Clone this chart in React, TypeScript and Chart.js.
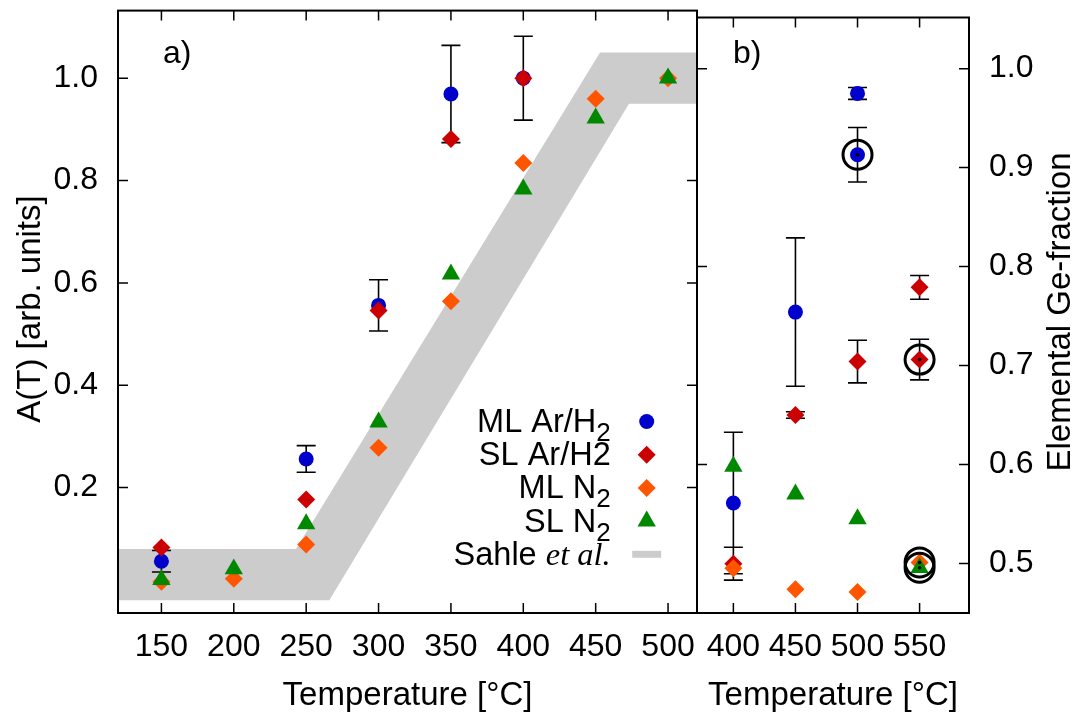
import React, { useEffect, useRef } from 'react';
import { Chart, registerables } from 'chart.js';

Chart.register(...registerables);

const FONT = '"Liberation Sans", Arial, Helvetica, sans-serif';
const SERIF = '"Liberation Serif", "Times New Roman", serif';

const BLUE = '#0000cc';
const RED = '#cc0000';
const ORANGE = '#ff5500';
const GREEN = '#008800';
const BAND = '#cccccc';

// ---------- Panel a: A(T) ----------
const xTicksA = [150, 200, 250, 300, 350, 400, 450, 500];
const yTicksA = [0.2, 0.4, 0.6, 0.8, 1.0];
const tempsA = [150, 200, 250, 300, 350, 400, 450, 500];
const mlArH2TempA = [150, 250, 300, 350, 400];
const mlArH2A = [0.056, 0.256, 0.556, 0.969, 1.0];
const mlArH2ErrA = [0.021, 0.026, 0.05, 0.095, 0.082];
const slArH2TempA = [150, 250, 300, 350, 400];
const slArH2A = [0.083, 0.177, 0.546, 0.881, 1.0];
const mlN2A = [0.016, 0.022, 0.089, 0.278, 0.564, 0.834, 0.96, 1.0];
const slN2A = [0.02, 0.041, 0.129, 0.328, 0.617, 0.783, 0.922, 1.0];
const sahleUpperT = [100, 243, 453, 540];
const sahleUpper = [0.08, 0.08, 1.05, 1.05];
const sahleLowerT = [100, 266, 473, 540];
const sahleLower = [-0.02, -0.02, 0.95, 0.95];

// ---------- Panel b: elemental Ge-fraction ----------
const xTicksB = [400, 450, 500, 550];
const yTicksB = [0.5, 0.6, 0.7, 0.8, 0.9, 1.0];
const innerTicksB = [0.6, 0.8, 1.0];
const tempsB = [400, 450, 500, 550];
const mlArH2TempB = [400, 450, 500, 500];
const mlArH2B = [0.561, 0.754, 0.975, 0.913];
const mlArH2ErrB = [0.0715, 0.075, 0.006, 0.0275];
const slArH2TempB = [400, 450, 500, 550, 550];
const slArH2B = [0.4997, 0.65, 0.704, 0.706, 0.779];
const slArH2ErrB = [0.0166, 0.0033, 0.0215, 0.0205, 0.012];
const mlN2B = [0.495, 0.474, 0.471, 0.501];
const slN2B = [0.598, 0.57, 0.545, 0.4956];
const markedTempB = [500, 550, 550, 550];
const markedB = [0.913, 0.706, 0.501, 0.4956];

// ---------- legend ----------
const legendMain = ['ML Ar/H', 'SL Ar/H2', 'ML N', 'SL N', 'Sahle '];
const legendSub = ['2', '', '2', '2', ''];
const legendItalic = ['', '', '', '', 'et al.'];
const legendStyle = ['circle', 'diamond', 'diamond', 'triangle', 'band'];
const legendColor = [BLUE, RED, ORANGE, GREEN, BAND];

const pts = (xs: number[], ys: number[]) => xs.map((x, i) => ({ x, y: ys[i] }));

function drawShape(ctx: CanvasRenderingContext2D, style: string, x: number, y: number, color: string) {
  ctx.save();
  ctx.fillStyle = color;
  ctx.beginPath();
  if (style === 'circle') {
    ctx.arc(x, y, 7.5, 0, Math.PI * 2);
  } else if (style === 'diamond') {
    const r = 9;
    ctx.moveTo(x - r, y);
    ctx.lineTo(x, y - r);
    ctx.lineTo(x + r, y);
    ctx.lineTo(x, y + r);
    ctx.closePath();
  } else if (style === 'triangle') {
    const r = 10.6;
    ctx.moveTo(x, y - r);
    ctx.lineTo(x + r * 0.866, y + r * 0.5);
    ctx.lineTo(x - r * 0.866, y + r * 0.5);
    ctx.closePath();
  } else if (style === 'band') {
    ctx.rect(x - 14.5, y - 3.5, 29, 7);
  }
  ctx.fill();
  ctx.restore();
}

type PanelCfg = {
  leftTicks: number[];
  rightTicks: number[];
  xTicks: number[];
  bars: { xs: number[]; ys: number[]; errs: number[] }[];
  label: string;
  labelX: number;
  yTitle: string;
  yTitleX: number;
  yTitleY: number;
  legend: boolean;
};

function makePlugin(cfg: PanelCfg) {
  return {
    id: 'panelDecor',
    beforeDraw(chart: any) {
      const { ctx, chartArea: a } = chart;
      const xs = chart.scales.x;
      const ys = chart.scales.y;
      const L = 10;
      ctx.save();
      ctx.strokeStyle = '#000';
      ctx.lineWidth = 1.5;
      ctx.beginPath();
      for (const v of cfg.xTicks) {
        const px = xs.getPixelForValue(v);
        ctx.moveTo(px, a.bottom);
        ctx.lineTo(px, a.bottom - L);
        ctx.moveTo(px, a.top);
        ctx.lineTo(px, a.top + L);
      }
      for (const v of cfg.leftTicks) {
        const py = ys.getPixelForValue(v);
        ctx.moveTo(a.left, py);
        ctx.lineTo(a.left + L, py);
      }
      for (const v of cfg.rightTicks) {
        const py = ys.getPixelForValue(v);
        ctx.moveTo(a.right, py);
        ctx.lineTo(a.right - L, py);
      }
      ctx.stroke();
      ctx.restore();
    },
    beforeDatasetsDraw(chart: any) {
      const { ctx } = chart;
      const xs = chart.scales.x;
      const ys = chart.scales.y;
      const cap = 9.5;
      ctx.save();
      ctx.strokeStyle = '#000';
      ctx.lineWidth = 1.6;
      ctx.beginPath();
      for (const b of cfg.bars) {
        b.xs.forEach((xv, i) => {
          const px = xs.getPixelForValue(xv);
          const top = ys.getPixelForValue(b.ys[i] + b.errs[i]);
          const bot = ys.getPixelForValue(b.ys[i] - b.errs[i]);
          ctx.moveTo(px, top);
          ctx.lineTo(px, bot);
          ctx.moveTo(px - cap, top);
          ctx.lineTo(px + cap, top);
          ctx.moveTo(px - cap, bot);
          ctx.lineTo(px + cap, bot);
        });
      }
      ctx.stroke();
      ctx.restore();
    },
    afterDatasetsDraw(chart: any) {
      const { ctx, chartArea: a } = chart;
      ctx.save();
      ctx.strokeStyle = '#000';
      ctx.lineWidth = 2;
      ctx.strokeRect(a.left, a.top, a.right - a.left, a.bottom - a.top);

      ctx.fillStyle = '#000';
      ctx.font = `32px ${FONT}`;
      ctx.textAlign = 'left';
      ctx.textBaseline = 'alphabetic';
      ctx.fillText(cfg.label, cfg.labelX, 63);

      ctx.save();
      ctx.translate(cfg.yTitleX, cfg.yTitleY);
      ctx.rotate(-Math.PI / 2);
      ctx.textAlign = 'center';
      ctx.textBaseline = 'middle';
      ctx.font = `33px ${FONT}`;
      ctx.fillText(cfg.yTitle, 0, 0);
      ctx.restore();

      if (cfg.legend) {
        const right = 610.7;
        const markX = 646.7;
        for (let i = 0; i < legendMain.length; i++) {
          const rowY = 421.5 + i * 33.2;
          const base = rowY + 10.5;
          ctx.font = `32.5px ${FONT}`;
          const wMain = ctx.measureText(legendMain[i]).width;
          ctx.font = `26px ${FONT}`;
          const wSub = legendSub[i] ? ctx.measureText(legendSub[i]).width : 0;
          ctx.font = `italic 32.5px ${SERIF}`;
          const wIt = legendItalic[i] ? ctx.measureText(legendItalic[i]).width : 0;
          let x = right - wMain - wSub - wIt;
          ctx.textAlign = 'left';
          ctx.textBaseline = 'alphabetic';
          ctx.font = `32.5px ${FONT}`;
          ctx.fillText(legendMain[i], x, base);
          x += wMain;
          if (legendSub[i]) {
            ctx.font = `26px ${FONT}`;
            ctx.fillText(legendSub[i], x, base + 9);
            x += wSub;
          }
          if (legendItalic[i]) {
            ctx.font = `italic 32.5px ${SERIF}`;
            ctx.fillText(legendItalic[i], x, base);
          }
          drawShape(ctx, legendStyle[i], markX, rowY, legendColor[i]);
        }
      }
      ctx.restore();
    },
  };
}

function tickFont() {
  return { family: FONT, size: 32 };
}

function noPad(s: any) {
  s.paddingTop = 0;
  s.paddingBottom = 0;
  s.paddingLeft = 0;
  s.paddingRight = 0;
}

function xTitle() {
  return {
    display: true,
    text: 'Temperature [°C]',
    color: '#000',
    font: { family: FONT, size: 33, lineHeight: 1 },
    padding: { top: 0, bottom: 8 },
  };
}

function buildPanelA(canvas: HTMLCanvasElement) {
  const plugin = makePlugin({
    leftTicks: yTicksA,
    rightTicks: yTicksA,
    xTicks: xTicksA,
    bars: [{ xs: mlArH2TempA, ys: mlArH2A, errs: mlArH2ErrA }],
    label: 'a)',
    labelX: 163,
    yTitle: 'A(T) [arb. units]',
    yTitleX: 31,
    yTitleY: 309,
    legend: true,
  });
  return new Chart(canvas, {
    type: 'scatter',
    data: {
      datasets: [
        {
          label: 'Sahle lower',
          data: pts(sahleLowerT, sahleLower),
          showLine: true,
          pointRadius: 0,
          borderWidth: 0,
          borderColor: BAND,
          backgroundColor: BAND,
          fill: false,
          order: 10,
        } as any,
        {
          label: 'Sahle et al.',
          data: pts(sahleUpperT, sahleUpper),
          showLine: true,
          pointRadius: 0,
          borderWidth: 0,
          borderColor: BAND,
          backgroundColor: BAND,
          fill: '-1',
          order: 9,
        } as any,
        {
          label: 'ML Ar/H2',
          data: pts(mlArH2TempA, mlArH2A),
          pointStyle: 'circle',
          pointRadius: 7.5,
          pointBorderWidth: 0,
          pointBackgroundColor: BLUE,
          order: 4,
        },
        {
          label: 'SL Ar/H2',
          data: pts(slArH2TempA, slArH2A),
          pointStyle: 'rectRot',
          pointRadius: 9,
          pointBorderWidth: 0,
          pointBackgroundColor: RED,
          order: 3,
        },
        {
          label: 'ML N2',
          data: pts(tempsA, mlN2A),
          pointStyle: 'rectRot',
          pointRadius: 9,
          pointBorderWidth: 0,
          pointBackgroundColor: ORANGE,
          order: 2,
        },
        {
          label: 'SL N2',
          data: pts(tempsA, slN2A),
          pointStyle: 'triangle',
          pointRadius: 10.6,
          pointBorderWidth: 0,
          pointBackgroundColor: GREEN,
          order: 1,
        },
      ],
    },
    options: {
      animation: false,
      responsive: false,
      events: [],
      layout: { padding: { left: 0, top: 7, right: 1074 - 697, bottom: 0 } },
      plugins: {
        legend: { display: false },
        tooltip: { enabled: false },
        filler: { drawTime: 'beforeDatasetsDraw' },
      } as any,
      scales: {
        x: {
          type: 'linear',
          min: 120,
          max: 520,
          position: 'bottom',
          afterBuildTicks: (s: any) => {
            s.ticks = xTicksA.map((v) => ({ value: v }));
          },
          afterFit: (s: any) => {
            s.height = 107;
            noPad(s);
          },
          grid: { display: false, drawTicks: false },
          border: { display: false },
          ticks: {
            autoSkip: false,
            maxRotation: 0,
            padding: 15,
            color: '#000',
            font: tickFont(),
            callback: (v: any) => String(v),
          },
          title: xTitle(),
        },
        y: {
          type: 'linear',
          min: -0.045,
          max: 1.132,
          position: 'left',
          afterBuildTicks: (s: any) => {
            s.ticks = yTicksA.map((v) => ({ value: v }));
          },
          afterFit: (s: any) => {
            s.width = 118;
            noPad(s);
          },
          grid: { display: false, drawTicks: false },
          border: { display: false },
          ticks: {
            autoSkip: false,
            padding: 20,
            color: '#000',
            font: tickFont(),
            callback: (v: any) => Number(v).toFixed(1),
          },
        },
      },
    } as any,
    plugins: [plugin],
  });
}

function buildPanelB(canvas: HTMLCanvasElement) {
  const plugin = makePlugin({
    leftTicks: innerTicksB,
    rightTicks: yTicksB,
    xTicks: xTicksB,
    bars: [
      { xs: mlArH2TempB, ys: mlArH2B, errs: mlArH2ErrB },
      { xs: slArH2TempB, ys: slArH2B, errs: slArH2ErrB },
    ],
    label: 'b)',
    labelX: 733,
    yTitle: 'Elemental Ge-fraction',
    yTitleX: 1061,
    yTitleY: 312,
    legend: false,
  });
  return new Chart(canvas, {
    type: 'scatter',
    data: {
      datasets: [
        {
          label: 'ML Ar/H2',
          data: pts(mlArH2TempB, mlArH2B),
          pointStyle: 'circle',
          pointRadius: 7.5,
          pointBorderWidth: 0,
          pointBackgroundColor: BLUE,
          order: 4,
        },
        {
          label: 'SL Ar/H2',
          data: pts(slArH2TempB, slArH2B),
          pointStyle: 'rectRot',
          pointRadius: 9,
          pointBorderWidth: 0,
          pointBackgroundColor: RED,
          order: 3,
        },
        {
          label: 'ML N2',
          data: pts(tempsB, mlN2B),
          pointStyle: 'rectRot',
          pointRadius: 9,
          pointBorderWidth: 0,
          pointBackgroundColor: ORANGE,
          order: 2,
        },
        {
          label: 'SL N2',
          data: pts(tempsB, slN2B),
          pointStyle: 'triangle',
          pointRadius: 10.6,
          pointBorderWidth: 0,
          pointBackgroundColor: GREEN,
          order: 1,
        },
        {
          label: 'marked',
          data: pts(markedTempB, markedB),
          pointStyle: 'circle',
          pointRadius: 14.5,
          pointBorderWidth: 3,
          pointBorderColor: '#000',
          pointBackgroundColor: 'rgba(0,0,0,0)',
          order: 0,
        },
        {
          label: 'marked centre',
          data: pts(markedTempB, markedB),
          pointStyle: 'circle',
          pointRadius: 1.8,
          pointBorderWidth: 0,
          pointBackgroundColor: '#000',
          order: -1,
        },
      ],
    },
    options: {
      animation: false,
      responsive: false,
      events: [],
      layout: { padding: { left: 697, top: 7, right: 0, bottom: 0 } },
      plugins: {
        legend: { display: false },
        tooltip: { enabled: false },
      },
      scales: {
        x: {
          type: 'linear',
          min: 370.7,
          max: 589.8,
          position: 'bottom',
          afterBuildTicks: (s: any) => {
            s.ticks = xTicksB.map((v) => ({ value: v }));
          },
          afterFit: (s: any) => {
            s.height = 107;
            noPad(s);
          },
          grid: { display: false, drawTicks: false },
          border: { display: false },
          ticks: {
            autoSkip: false,
            maxRotation: 0,
            padding: 15,
            color: '#000',
            font: tickFont(),
            callback: (v: any) => String(v),
          },
          title: xTitle(),
        },
        y: {
          type: 'linear',
          min: 0.4499,
          max: 1.0517,
          position: 'right',
          afterBuildTicks: (s: any) => {
            s.ticks = yTicksB.map((v) => ({ value: v }));
          },
          afterFit: (s: any) => {
            s.width = 105;
            noPad(s);
          },
          grid: { display: false, drawTicks: false },
          border: { display: false },
          ticks: {
            autoSkip: false,
            padding: 20,
            color: '#000',
            font: tickFont(),
            callback: (v: any) => Number(v).toFixed(1),
          },
        },
      },
    } as any,
    plugins: [plugin],
  });
}

export default function App() {
  const refA = useRef<HTMLCanvasElement | null>(null);
  const refB = useRef<HTMLCanvasElement | null>(null);

  useEffect(() => {
    if (!refA.current || !refB.current) return;
    const a = buildPanelA(refA.current);
    const b = buildPanelB(refB.current);
    return () => {
      a.destroy();
      b.destroy();
    };
  }, []);

  return (
    <div style={{ position: 'absolute', left: 0, top: 0, width: 1074, height: 720, background: '#fff' }}>
      <canvas ref={refA} width={1074} height={720} style={{ position: 'absolute', left: 0, top: 0 }} />
      <canvas ref={refB} width={1074} height={720} style={{ position: 'absolute', left: 0, top: 0 }} />
    </div>
  );
}
